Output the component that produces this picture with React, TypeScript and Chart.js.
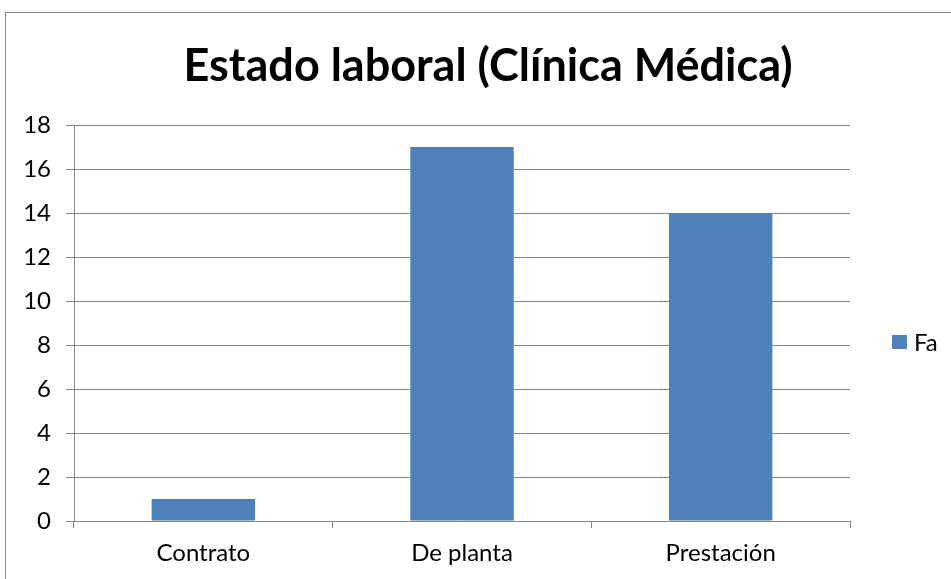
import React, { useEffect, useRef } from "react";
import { Chart, registerables } from "chart.js";

Chart.register(...registerables);

const categories = ["Contrato", "De planta", "Prestación"];
const seriesLabel = "Fa";
const seriesValues = [1, 17, 14];
const yTicks = [0, 2, 4, 6, 8, 10, 12, 14, 16, 18];
const titleText = "Estado laboral (Clínica Médica)";

const BAR = "#4F81BD";
const GRID = "#868686";
const FONT = "Lato, 'Open Sans', sans-serif";

const decorPlugin = {
  id: "decor",
  afterDraw(chart: any) {
    const ctx = chart.ctx;
    ctx.save();
    // outer border
    ctx.strokeStyle = GRID;
    ctx.lineWidth = 1;
    ctx.strokeRect(5.5, 12.5, 2000, 2000);
    // title
    ctx.fillStyle = "#000";
    ctx.font = `bold 45px ${FONT}`;
    ctx.textAlign = "center";
    ctx.textBaseline = "middle";
    ctx.fillText(titleText, 488, 66);
    // legend
    const ds = chart.data.datasets[0];
    ctx.fillStyle = ds.backgroundColor;
    ctx.fillRect(892, 335, 15, 14);
    ctx.fillStyle = "#000";
    ctx.font = `24px ${FONT}`;
    ctx.textAlign = "left";
    ctx.fillText(ds.label, 914, 343);
    ctx.restore();
  },
};

export default function App() {
  const ref = useRef<HTMLCanvasElement>(null);
  useEffect(() => {
    if (!ref.current) return;
    const chart = new Chart(ref.current, {
      type: "bar",
      data: {
        labels: categories,
        datasets: [
          {
            label: seriesLabel,
            data: seriesValues,
            backgroundColor: BAR,
            categoryPercentage: 0.8,
            barPercentage: 0.5,
          },
        ],
      },
      options: {
        responsive: false,
        animation: false,
        layout: { padding: { top: 125, right: 101, bottom: 0, left: 0 } },
        plugins: {
          legend: { display: false },
          title: { display: false },
          tooltip: { enabled: false },
        },
        scales: {
          x: {
            afterFit(scale: any) {
              scale.height = 58;
            },
            grid: {
              offset: true,
              drawOnChartArea: false,
              drawTicks: true,
              tickLength: 7,
              color: GRID,
            },
            border: { color: GRID },
            ticks: {
              color: "#000",
              font: { family: FONT, size: 24 },
              padding: 11,
            },
          },
          y: {
            min: 0,
            max: 18,
            afterFit(scale: any) {
              scale.width = 74;
            },
            afterBuildTicks(scale: any) {
              scale.ticks = yTicks.map((v) => ({ value: v }));
            },
            grid: {
              color: GRID,
              tickLength: 8,
            },
            border: { color: GRID },
            ticks: {
              color: "#000",
              font: { family: FONT, size: 24 },
              padding: 15,
            },
          },
        },
      },
      plugins: [decorPlugin],
    });
    return () => chart.destroy();
  }, []);
  return (
    <div style={{ position: "absolute", left: 0, top: 0, width: 951, height: 579, background: "#fff" }}>
      <canvas ref={ref} width={951} height={579} style={{ width: 951, height: 579 }} />
    </div>
  );
}
